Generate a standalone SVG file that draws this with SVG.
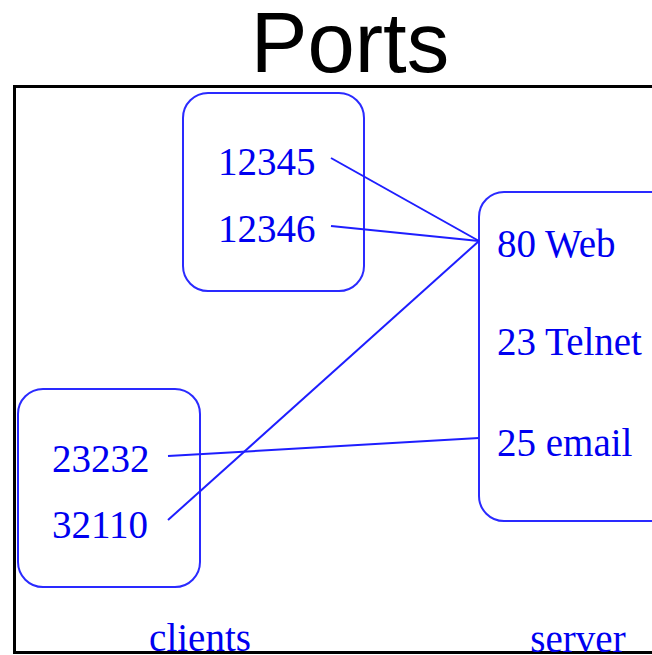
<svg xmlns="http://www.w3.org/2000/svg" width="652" height="655" viewBox="0 0 652 655">
  <style>
    .title { font-family: "Liberation Sans", Arial, sans-serif; font-size: 85px; fill: #000; }
    .box { fill: none; stroke: #2a2aff; stroke-width: 2; }
    .port { font-family: "Liberation Serif", "Times New Roman", serif; font-size: 39px; fill: #0000f0; }
    .wire { stroke: #1e1eff; stroke-width: 2; fill: none; }
    .frame { fill: none; stroke: #000; stroke-width: 3; }
  </style>
  <rect width="652" height="655" fill="#fff"/>
  <text class="title" x="350" y="72" text-anchor="middle">Ports</text>
  <!-- outer frame: right side runs past the canvas -->
  <path class="frame" d="M660 86.5 H14.5 V652.5 H660"/>

  <g id="client-a">
    <rect class="box" x="183" y="93" width="181" height="198" rx="25"/>
    <text class="port" x="218" y="175">12345</text>
    <text class="port" x="218" y="242">12346</text>
  </g>
  <g id="client-b">
    <rect class="box" x="18" y="389" width="182" height="198" rx="25"/>
    <text class="port" x="52" y="472">23232</text>
    <text class="port" x="52" y="538">32110</text>
  </g>
  <g id="server">
    <rect class="box" x="479" y="192" width="200" height="329" rx="25"/>
    <text class="port" x="497" y="257">80 Web</text>
    <text class="port" x="497" y="355">23 Telnet</text>
    <text class="port" x="497" y="456">25 email</text>
  </g>

  <g id="connectors">
    <line class="wire" x1="331" y1="158" x2="479" y2="241"/>
    <line class="wire" x1="331" y1="226" x2="479" y2="241"/>
    <line class="wire" x1="168" y1="520" x2="479" y2="241"/>
    <line class="wire" x1="168" y1="456" x2="479" y2="438"/>
  </g>

  <g id="labels">
    <text class="port" x="200" y="651" text-anchor="middle">clients</text>
    <text class="port" x="578" y="652" text-anchor="middle">server</text>
  </g>
</svg>
